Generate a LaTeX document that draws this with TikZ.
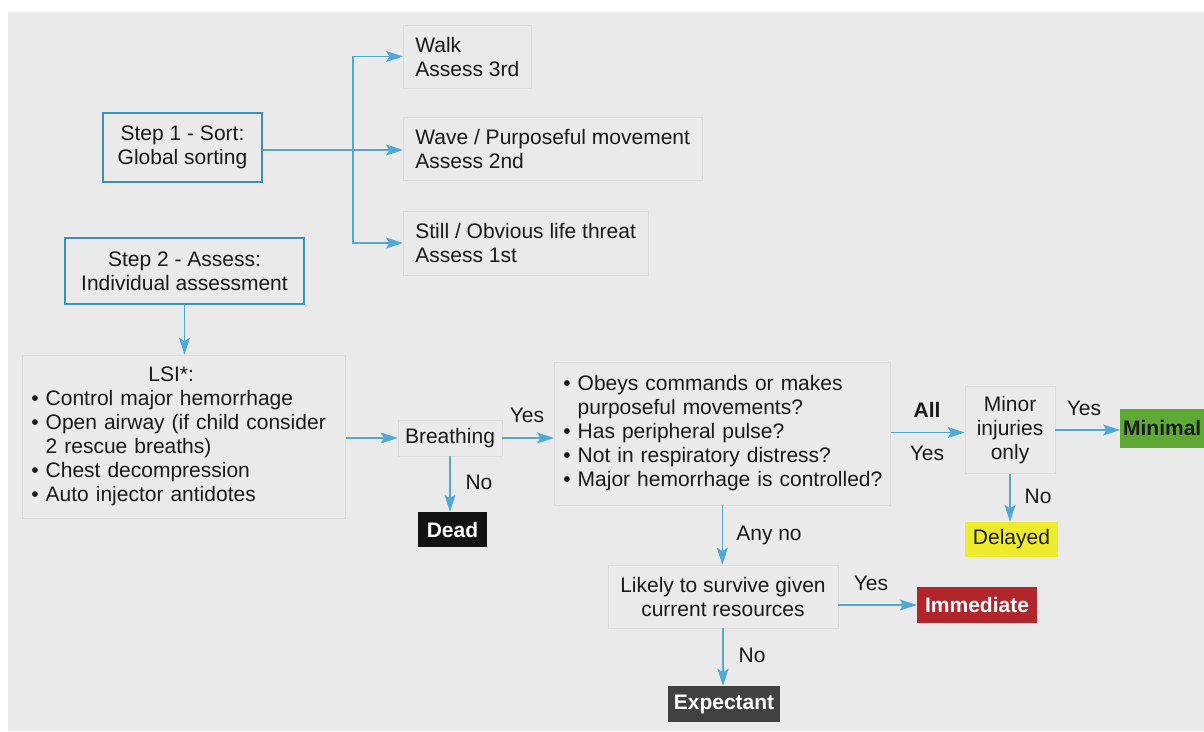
\documentclass[tikz,border=0pt]{standalone}
\usepackage{fontspec}
\setmainfont{Liberation Sans}
\usetikzlibrary{arrows.meta,calc}
\definecolor{bgray}{HTML}{EAEAEA}
\definecolor{stepblue}{HTML}{3A8EC0}
\definecolor{arrblue}{HTML}{4FA8D5}
\definecolor{faintline}{HTML}{DADDDF}
\definecolor{txtc}{HTML}{1A1A1A}
\definecolor{mingreen}{HTML}{5EA834}
\definecolor{delyellow}{HTML}{EEEA2C}
\definecolor{immred}{HTML}{B2262B}
\definecolor{expgray}{HTML}{414141}
\definecolor{deadblack}{HTML}{121212}
\tikzset{
  every node/.style={font=\fontsize{21}{24}\selectfont, text=txtc},
  stepbox/.style={draw=stepblue, line width=2.5pt, align=center, inner sep=0pt},
  faint/.style={draw=faintline, line width=0.7pt, align=left, inner xsep=12pt, inner ysep=0pt},
  faintc/.style={draw=faintline, line width=0.7pt, align=center, inner sep=0pt},
  tag/.style={inner sep=0pt, align=center},
  outbox/.style={inner sep=0pt, align=center},
  arr/.style={draw=arrblue, line width=1.2pt, -{Stealth[length=17pt,width=11pt,inset=3.5pt]}},
  ln/.style={draw=arrblue, line width=1.2pt}
}
\begin{document}
\begin{tikzpicture}[x=1pt,y=-1pt]
\useasboundingbox (0,0) rectangle (1204,731);
\fill[white] (0,0) rectangle (1204,731);
\fill[bgray] (8,12) rectangle (1204,731);

% Step boxes
\node[stepbox, minimum width=159pt, minimum height=69pt] (step1) at (182.5,147.5) {Step 1 - Sort:\\Global sorting};
\node[stepbox, minimum width=239pt, minimum height=66pt] (step2) at (184.5,271) {Step 2 - Assess:\\Individual assessment};

% Sorting outcomes
\node[faint, anchor=west, minimum height=63pt] (walk) at (403,56.5) {Walk\\Assess 3rd};
\node[faint, anchor=west, minimum height=63pt] (wave) at (403,148.5) {Wave / Purposeful movement\\Assess 2nd};
\node[faint, anchor=west, minimum height=64pt] (still) at (403,243) {Still / Obvious life threat\\Assess 1st};

% LSI
\node[faint, anchor=west, inner xsep=9pt, text width=305pt, minimum height=163pt] (lsi) at (22,436.5)
  {\begin{tabular}{@{}l@{}}
   \hspace*{117pt}LSI*:\\
   • Control major hemorrhage\\
   • Open airway (if child consider\\
   \phantom{• }2 rescue breaths)\\
   • Chest decompression\\
   • Auto injector antidotes
   \end{tabular}};

\node[faintc, minimum width=104pt, minimum height=36pt] (breath) at (450,438) {Breathing};
\node[outbox, fill=deadblack, minimum width=69pt, minimum height=35pt] (dead) at (452.5,529.5) {\textcolor{white}{\bfseries Dead}};

\node[faint, anchor=west, inner xsep=9pt, text width=318pt, minimum height=143pt] (quest) at (554,433.5)
  {\begin{tabular}{@{}l@{}}
   • Obeys commands or makes\\
   \phantom{• }purposeful movements?\\
   • Has peripheral pulse?\\
   • Not in respiratory distress?\\
   • Major hemorrhage is controlled?
   \end{tabular}};

\node[faintc, minimum width=90pt, minimum height=87pt] (minor) at (1010,430) {Minor\\injuries\\only};
\node[outbox, fill=mingreen, anchor=west, minimum width=84pt, minimum height=39pt] (minimal) at (1120,428) {\bfseries Minimal};
\node[outbox, fill=delyellow, minimum width=93pt, minimum height=35pt] (delayed) at (1011.5,539.5) {Delayed};

\node[faintc, minimum width=230pt, minimum height=63pt] (likely) at (723,596.5) {Likely to survive given\\current resources};
\node[outbox, fill=immred, minimum width=120pt, minimum height=36pt] (immed) at (977,605) {\textcolor{white}{\bfseries Immediate}};
\node[outbox, fill=expgray, minimum width=112pt, minimum height=36pt] (expect) at (724,704) {\textcolor{white}{\bfseries Expectant}};

% Connectors: sorting
\coordinate (br) at (353,150);
\draw[arr] (step1.east |- br) -- (wave.west |- br);
\draw[arr] (br) |- (walk.west);
\draw[arr] (br) |- (still.west);
\draw[arr] (step2.south) -- (step2.south |- lsi.north);

% Assessment flow
\draw[arr] (lsi.east |- breath.west) -- (breath.west);
\draw[arr] (breath.east) -- (breath.east -| quest.west);
\draw[arr] (breath.south) -- (breath.south |- dead.north);
\draw[arr] ($(quest.east)+(0,-1)$) -- ($(quest.east -| minor.west)+(0,-1)$);
\draw[arr] (minor.east) -- (minor.east -| minimal.west);
\draw[arr] (minor.south) -- (minor.south |- delayed.north);
\draw[arr] (quest.south) -- (quest.south |- likely.north);
\draw[arr] (likely.east |- immed.west) -- (immed.west);
\draw[arr] (likely.south) -- (likely.south |- expect.north);

% Labels
\node[tag] (lyes1) at (527,415) {Yes};
\node[tag] (lno1) at (479,482) {No};
\node[tag] (lall) at (927,410) {\bfseries All};
\node[tag] (lyes2) at (927,453) {Yes};
\node[tag] (lyes3) at (1084,408) {Yes};
\node[tag] (lno2) at (1038,496) {No};
\node[tag] (lany) at (769,535) {Any no};
\node[tag] (lyes4) at (871,583) {Yes};
\node[tag] (lno3) at (752,655) {No};
\end{tikzpicture}
\end{document}
